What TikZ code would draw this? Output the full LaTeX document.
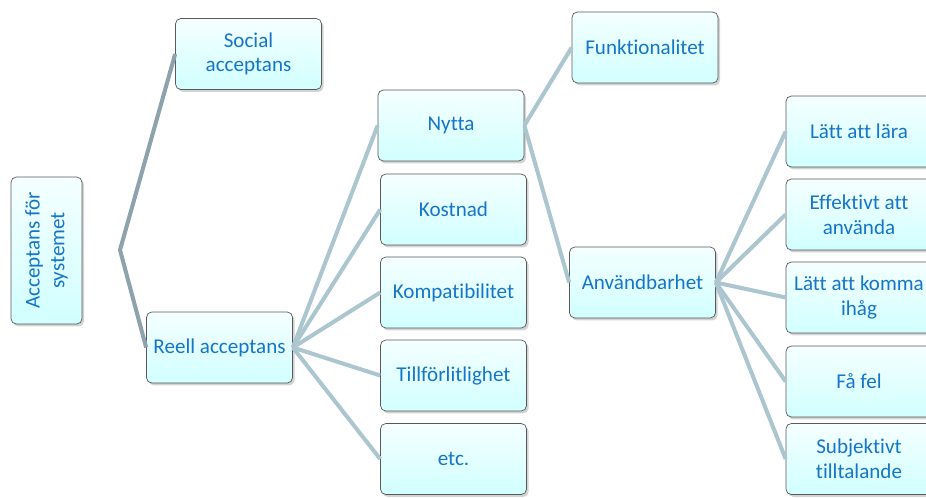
\documentclass[tikz,border=0pt]{standalone}
\usepackage{fontspec}
\setmainfont{Carlito}[Ligatures=NoCommon]
\usetikzlibrary{shadows}
\definecolor{boxtext}{RGB}{20,118,200}
\definecolor{linklight}{RGB}{172,198,208}
\definecolor{linkdark}{RGB}{142,162,172}
\tikzset{
  box/.style={draw=black!65,rounded corners=3pt,top color=cyan!4,bottom color=cyan!18,
    minimum width=2.92cm,minimum height=1.42cm,align=center,text=boxtext,
    font=\fontsize{12}{14}\selectfont,
    drop shadow={shadow xshift=1.2pt,shadow yshift=-1.4pt,opacity=0.35}},
  link/.style={draw=linklight,line width=2.3pt},
  linkd/.style={draw=linkdark,line width=2.3pt}
}
\begin{document}
\begin{tikzpicture}[x=0.02cm,y=-0.02cm]
\useasboundingbox (0,0) rectangle (926,497);
% left part
\node[box,rotate=90,minimum width=2.94cm] (Acc) at (46.5,250.5) {Acceptans för\\systemet};
\node[box] (Social) at (248.5,54) {Social\\acceptans};
\node[box] (Reell) at (219.5,347.5) {Reell acceptans};
\coordinate (B) at (120,250);
\draw[linkd] (Social.west) -- (B) -- (Reell.west);
% second column
\node[box] (Nytta) at (451,125.5) {Nytta};
\node[box] (Kost) at (453.5,209.5) {Kostnad};
\node[box] (Komp) at (453.5,292.5) {Kompatibilitet};
\node[box] (Till) at (453.5,375.5) {Tillförlitlighet};
\node[box] (Etc) at (453.5,459) {etc.};
\foreach \n in {Nytta,Kost,Komp,Till,Etc}
  \draw[link] (Reell.east) -- (\n.west);
% third column
\node[box] (Funk) at (645,47.5) {Funktionalitet};
\node[box] (Anv) at (642.5,282.5) {Användbarhet};
\draw[link] (Nytta.east) -- (Funk.west);
\draw[link] (Nytta.east) -- (Anv.west);
% fourth column
\node[box] (Lara) at (859,131.5) {Lätt att lära};
\node[box] (Eff) at (859,214.5) {Effektivt att\\använda};
\node[box] (Minne) at (859,297.5) {Lätt att komma\\ihåg};
\node[box] (Fel) at (859,381.5) {Få fel};
\node[box] (Subj) at (859,459) {Subjektivt\\tilltalande};
\foreach \n in {Lara,Eff,Minne,Fel,Subj}
  \draw[link] (Anv.east) -- (\n.west);
\end{tikzpicture}
\end{document}
